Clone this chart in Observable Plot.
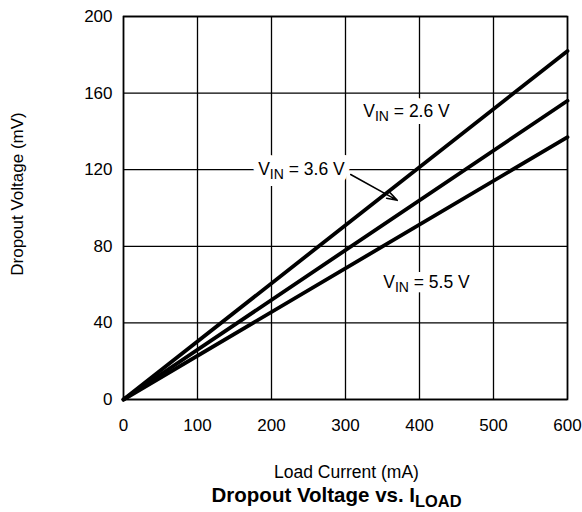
<!DOCTYPE html>
<html>
<head>
<meta charset="utf-8">
<script src="https://cdn.jsdelivr.net/npm/d3@7"></script>
<script src="https://cdn.jsdelivr.net/npm/@observablehq/plot@0.6"></script>
<style>
  body { margin: 0; background: #fff; }
  svg { font-family: "Liberation Sans", Arial, Helvetica, sans-serif; }
</style>
</head>
<body>
<div id="chart"></div>
<script>
// Load current (mA)
const loadCurrent = [0, 600];
// Dropout voltage (mV) for each V_IN
const vin26 = [0, 182];
const vin36 = [0, 156];
const vin55 = [0, 137];
const seriesNames = ["2.6", "3.6", "5.5"];
const seriesValues = [vin26, vin36, vin55];

const xTicks = [0, 100, 200, 300, 400, 500, 600];
const yTicks = [0, 40, 80, 120, 160, 200];

// Curve labels
const labelItems = [
  {text: "VIN = 2.6 V", x: 324, y: 150.4},
  {text: "VIN = 3.6 V", x: 182, y: 120.3},
  {text: "VIN = 5.5 V", x: 351, y: 61.4}
];
// Arrow from 3.6 V label to its curve
const arrowItems = [{x1: 307, y1: 117.5, x2: 370, y2: 104}];

const rows = [];
seriesNames.forEach((s, i) => {
  loadCurrent.forEach((c, j) => rows.push({series: s, current: c, mv: seriesValues[i][j]}));
});

const FONT = '"Liberation Sans", Arial, Helvetica, sans-serif';
const W = 582, H = 512;
const plot = Plot.plot({
  width: W,
  height: H,
  marginTop: 16,
  marginLeft: 123,
  marginRight: 15,
  marginBottom: H - 399,
  style: {fontFamily: FONT, fontSize: "17px", color: "#000", background: "#fff"},
  x: {domain: [0, 600], ticks: xTicks},
  y: {domain: [0, 200], ticks: yTicks},
  marks: [
    Plot.gridX(xTicks, {stroke: "#000", strokeOpacity: 1, strokeWidth: 1.3}),
    Plot.gridY(yTicks, {stroke: "#000", strokeOpacity: 1, strokeWidth: 1.3}),
    // white halo behind the labels (breaks the grid lines)
    Plot.text(labelItems, {x: "x", y: "y", text: "text", textAnchor: "start", lineAnchor: "middle",
      fontSize: 17.5, fill: "#fff", stroke: "#fff", strokeWidth: 14}),
    Plot.line(rows, {x: "current", y: "mv", z: "series", stroke: "#000", strokeWidth: 3.8}),
    Plot.arrow(arrowItems, {x1: "x1", y1: "y1", x2: "x2", y2: "y2", stroke: "#000", strokeWidth: 1.5, headLength: 11, headAngle: 35}),
    Plot.text(labelItems, {x: "x", y: "y", text: "text", textAnchor: "start", lineAnchor: "middle",
      fontSize: 17.5, fill: "#000"}),
    Plot.frame({stroke: "#000", strokeWidth: 1.6}),
    Plot.axisX(xTicks, {tickSize: 0, tickPadding: 19, fontSize: 17, label: null}),
    Plot.axisY(yTicks, {tickSize: 0, tickPadding: 11, fontSize: 17, label: null})
  ]
});

const svg = d3.select(plot);
// Subscripts in curve labels
svg.selectAll("text").each(function() {
  const t = d3.select(this);
  const s = t.text();
  const m = s.match(/^VIN( = .*)$/);
  if (m) {
    t.text(null);
    t.append("tspan").text("V");
    t.append("tspan").attr("dy", "0.3em").attr("font-size", "0.8em").text("IN");
    t.append("tspan").attr("dy", "-0.24em").text(m[1]);
  }
});

// Axis labels and title
svg.append("text")
  .attr("transform", "translate(23,194) rotate(-90)")
  .attr("text-anchor", "middle")
  .attr("font-size", 17)
  .attr("fill", "#000")
  .text("Dropout Voltage (mV)");

svg.append("text")
  .attr("x", 346.5).attr("y", 478)
  .attr("text-anchor", "middle")
  .attr("font-size", 17.5)
  .attr("fill", "#000")
  .text("Load Current (mA)");

const title = svg.append("text")
  .attr("x", 336.5).attr("y", 502)
  .attr("text-anchor", "middle")
  .attr("font-size", 20.5)
  .attr("font-weight", "bold")
  .attr("fill", "#000");
title.append("tspan").text("Dropout Voltage vs. I");
title.append("tspan").attr("dy", "0.3em").attr("font-size", "0.8em").text("LOAD");

document.getElementById("chart").appendChild(plot);
</script>
</body>
</html>
